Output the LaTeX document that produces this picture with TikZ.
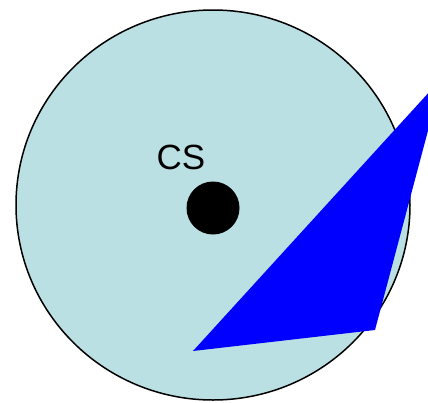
\documentclass[tikz,border=0pt]{standalone}
\usepackage{fontspec}
\setmainfont{Liberation Sans}
\usepackage{xcolor}
\usetikzlibrary{positioning, calc}

\definecolor{paleblue}{HTML}{BBE0E3}

\begin{document}
\begin{tikzpicture}[x=1pt, y=-1pt]
\clip (0,0) rectangle (428,402);
\useasboundingbox (0,0) rectangle (428,402);

% Region around the point
\draw[black, line width=1.5pt, fill=paleblue] (213,205) ellipse [x radius=197, y radius=195];
\coordinate (region) at (213,205);

% Centre point and its label
\node[circle, fill=black, minimum size=53pt, inner sep=0pt] (cs) at (213,208) {};
\node[font=\fontsize{35}{35}\selectfont, inner sep=0pt] (cslabel) at (181,157) {CS};

% Blue wedge
\fill[blue] (442,78) -- (375,330) -- (193,351) -- cycle;
\end{tikzpicture}
\end{document}
